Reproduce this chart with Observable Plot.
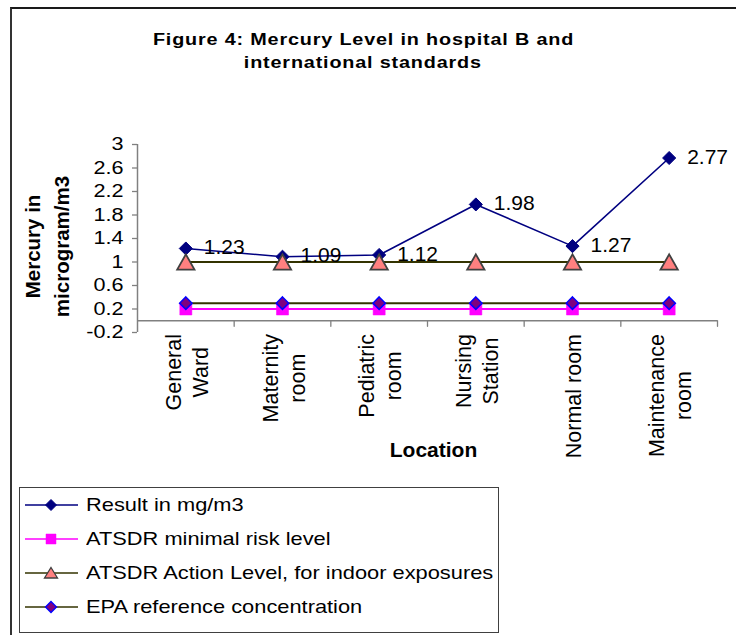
<!DOCTYPE html>
<html>
<head>
<meta charset="utf-8">
<script src="https://cdn.jsdelivr.net/npm/d3@7"></script>
<script src="https://cdn.jsdelivr.net/npm/@observablehq/plot@0.6"></script>
<style>
  body { margin: 0; background: #fff; font-family: "Liberation Sans", Arial, sans-serif; }
  #wrap { position: relative; width: 736px; height: 635px; overflow: hidden; background: #fff; }
  #frame { position: absolute; left: 10px; top: 7px; width: 800px; height: 700px;
           border-top: 2px solid #1a1a1a; border-left: 2px solid #333; }
  #title { position: absolute; left: 0; width: 726px; top: 28px; text-align: center;
           font-weight: bold; font-size: 16.8px; line-height: 23px; color: #000; }
  #title div span { display: inline-block; transform: scaleX(1.18); letter-spacing: 0.7px; white-space: nowrap; }
  #chart { position: absolute; left: 0; top: 100px; }
  #legend { position: absolute; left: 19px; top: 487px; width: 478px; height: 144px;
            border: 1px solid #404040; background: #fff; }
  .row { display: flex; align-items: center; height: 34px; font-size: 17.9px; color: #000; }
  .row svg { margin-left: 5px; flex: none; }
  .row span { display: inline-block; margin-left: 7.5px; transform: scaleX(1.22); transform-origin: left center; white-space: nowrap; }
</style>
</head>
<body>
<div id="wrap">
  <div id="frame"></div>
  <div id="title"></div>
  <div id="chart"></div>
  <div id="legend"></div>
</div>
<script>
// ---------- data ----------
const locations = ["General\nWard", "Maternity\nroom", "Pediatric\nroom", "Nursing\nStation", "Normal room", "Maintenance\nroom"];
const resultValues = [1.23, 1.09, 1.12, 1.98, 1.27, 2.77];
const mrlValues = [0.2, 0.2, 0.2, 0.2, 0.2, 0.2];
const actionValues = [1, 1, 1, 1, 1, 1];
const epaValues = [0.3, 0.3, 0.3, 0.3, 0.3, 0.3];
const yTicks = [-0.2, 0.2, 0.6, 1, 1.4, 1.8, 2.2, 2.6, 3];
const seriesNames = ["Result in mg/m3", "ATSDR minimal risk level", "ATSDR Action Level, for indoor exposures", "EPA reference concentration"];
const titleLines = ["Figure 4: Mercury Level in hospital B and", "international standards"];
const yTitle = "Mercury in\nmicrogram/m3";
const xTitle = "Location";

// ---------- styles ----------
const FONT = "'Liberation Sans', Arial, sans-serif";
const C = {
  result: "#000080",
  mrl: "#FF00FF",
  olive: "#333300",
  triFill: "#FF8080",
  triStroke: "#404040",
  epaFill: "#800080",
  epaStroke: "#0000FF",
  axis: "#808080"
};

const triangle = {
  draw(context, size) {
    const s = Math.sqrt(size / Math.PI);
    const w = 2.7 * s, h = 2.4 * s;
    context.moveTo(0, -h / 2);
    context.lineTo(w / 2, h / 2);
    context.lineTo(-w / 2, h / 2);
    context.closePath();
  }
};
const tickShape = {
  draw(context, l) { context.moveTo(0, 0); context.lineTo(0, -l); }
};

const toRows = (vals) => vals.map((v, i) => ({ i, v, loc: locations[i] }));
const resultRows = toRows(resultValues);
const mrlRows = toRows(mrlValues);
const actionRows = toRows(actionValues);
const epaRows = toRows(epaValues);
const boundaries = locations.map((_, i) => i + 0.5);
const fmtTick = (d) => String(Math.round(d * 10) / 10);

// measure x labels so the longest line starts just under the plot
const ctx = document.createElement("canvas").getContext("2d");
const XFS = 21.5;
ctx.font = `${XFS}px 'Liberation Sans'`;
const labelMarks = locations.map((loc, i) => {
  const w = d3.max(loc.split("\n"), (s) => ctx.measureText(s).width);
  return Plot.text([{ i, loc }], {
    x: "i", text: "loc", frameAnchor: "bottom", rotate: -90,
    textAnchor: "middle", lineAnchor: "middle", lineHeight: 1.26,
    dy: 1.5 + w / 2, fontSize: XFS, fill: "#000"
  });
});

// ---------- title ----------
d3.select("#title").selectAll("div").data(titleLines).join("div")
  .append("span").text((d) => d);

// ---------- chart ----------
const chart = Plot.plot({
  width: 736,
  height: 370,
  marginLeft: 137,
  marginRight: 19,
  marginTop: 44,
  marginBottom: 138,
  x: { type: "linear", domain: [-0.5, 5.5], axis: null },
  y: { domain: [-0.2, 3], axis: null },
  style: { fontFamily: FONT, background: "none", color: "#000", overflow: "visible" },
  marks: [
    Plot.axisY({ ticks: yTicks, tickFormat: fmtTick, tickSize: 5, tickPadding: 9, label: null,
                 stroke: C.axis, fontSize: 18, fill: "#000", anchor: "left", strokeWidth: 1.3 }),
    Plot.ruleX([-0.5], { y1: -0.2, y2: 3, stroke: C.axis, strokeWidth: 1.5 }),
    Plot.ruleY([0], { stroke: C.axis, strokeWidth: 1.5 }),
    Plot.vector(boundaries, { x: (d) => d, y: 0, length: 5.5, rotate: 180, anchor: "start",
                              shape: tickShape, stroke: C.axis, strokeWidth: 1.3 }),
    // Result
    Plot.line(resultRows, { x: "i", y: "v", stroke: C.result, strokeWidth: 1.6 }),
    Plot.dot(resultRows, { x: "i", y: "v", symbol: "diamond2", r: 5.9, fill: C.result, stroke: C.result, strokeWidth: 1 }),
    // ATSDR MRL
    Plot.line(mrlRows, { x: "i", y: "v", stroke: C.mrl, strokeWidth: 2 }),
    Plot.dot(mrlRows, { x: "i", y: "v", symbol: "square", r: 6.8, fill: C.mrl, stroke: C.mrl, strokeWidth: 0.5 }),
    // ATSDR Action Level
    Plot.line(actionRows, { x: "i", y: "v", stroke: C.olive, strokeWidth: 2 }),
    Plot.dot(actionRows, { x: "i", y: "v", symbol: triangle, r: 6.4, fill: C.triFill, stroke: C.triStroke, strokeWidth: 1.8 }),
    // EPA
    Plot.line(epaRows, { x: "i", y: "v", stroke: C.olive, strokeWidth: 2 }),
    Plot.dot(epaRows, { x: "i", y: "v", symbol: "diamond2", r: 5.6, fill: C.epaFill, stroke: C.epaStroke, strokeWidth: 1.5 }),
    // data labels
    Plot.text(resultRows, { x: "i", y: "v", text: (d) => d.v.toFixed(2), textAnchor: "start",
                            dx: 18, dy: -1, fontSize: 21, fill: "#000" }),
    // x labels
    ...labelMarks,
    Plot.text([xTitle], { frameAnchor: "bottom", dx: 6, dy: 124, fontSize: 21, fontWeight: "bold", fill: "#000" }),
    Plot.text([yTitle], { frameAnchor: "left", rotate: -90, dx: -92, dy: 8, fontSize: 20.5, fontWeight: "bold",
                          lineHeight: 1.42, textAnchor: "middle", lineAnchor: "middle", fill: "#000" })
  ]
});

// widen y tick labels horizontally like the reference
d3.select(chart).selectAll("g[aria-label='y-axis tick label'] text").each(function () {
  const t = this.getAttribute("transform");
  if (t) this.setAttribute("transform", t + " scale(1.2,1)");
});
document.getElementById("chart").appendChild(chart);

// ---------- legend ----------
const swatches = [
  { line: C.result, sym: "diamond", fill: C.result, stroke: C.result, sw: 1 },
  { line: C.mrl, sym: "square", fill: C.mrl, stroke: C.mrl, sw: 0.5 },
  { line: C.olive, sym: "triangle", fill: C.triFill, stroke: C.triStroke, sw: 1.3 },
  { line: C.olive, sym: "diamond", fill: C.epaFill, stroke: C.epaStroke, sw: 1.3 }
];
const symPath = {
  diamond: "M26,4.5L31.5,10L26,15.5L20.5,10Z",
  square: "M21,5H31V15H21Z",
  triangle: "M26,4.5L32.5,15L19.5,15Z"
};
const rowsSel = d3.select("#legend").selectAll("div").data(seriesNames).join("div").attr("class", "row");
rowsSel.each(function (name, k) {
  const s = swatches[k];
  const svg = d3.select(this).append("svg").attr("width", 53).attr("height", 20);
  svg.append("line").attr("x1", 0).attr("x2", 53).attr("y1", 10).attr("y2", 10)
    .attr("stroke", s.line).attr("stroke-width", 1.6);
  svg.append("path").attr("d", symPath[s.sym]).attr("fill", s.fill).attr("stroke", s.stroke).attr("stroke-width", s.sw);
  d3.select(this).append("span").text(name);
});
</script>
</body>
</html>
